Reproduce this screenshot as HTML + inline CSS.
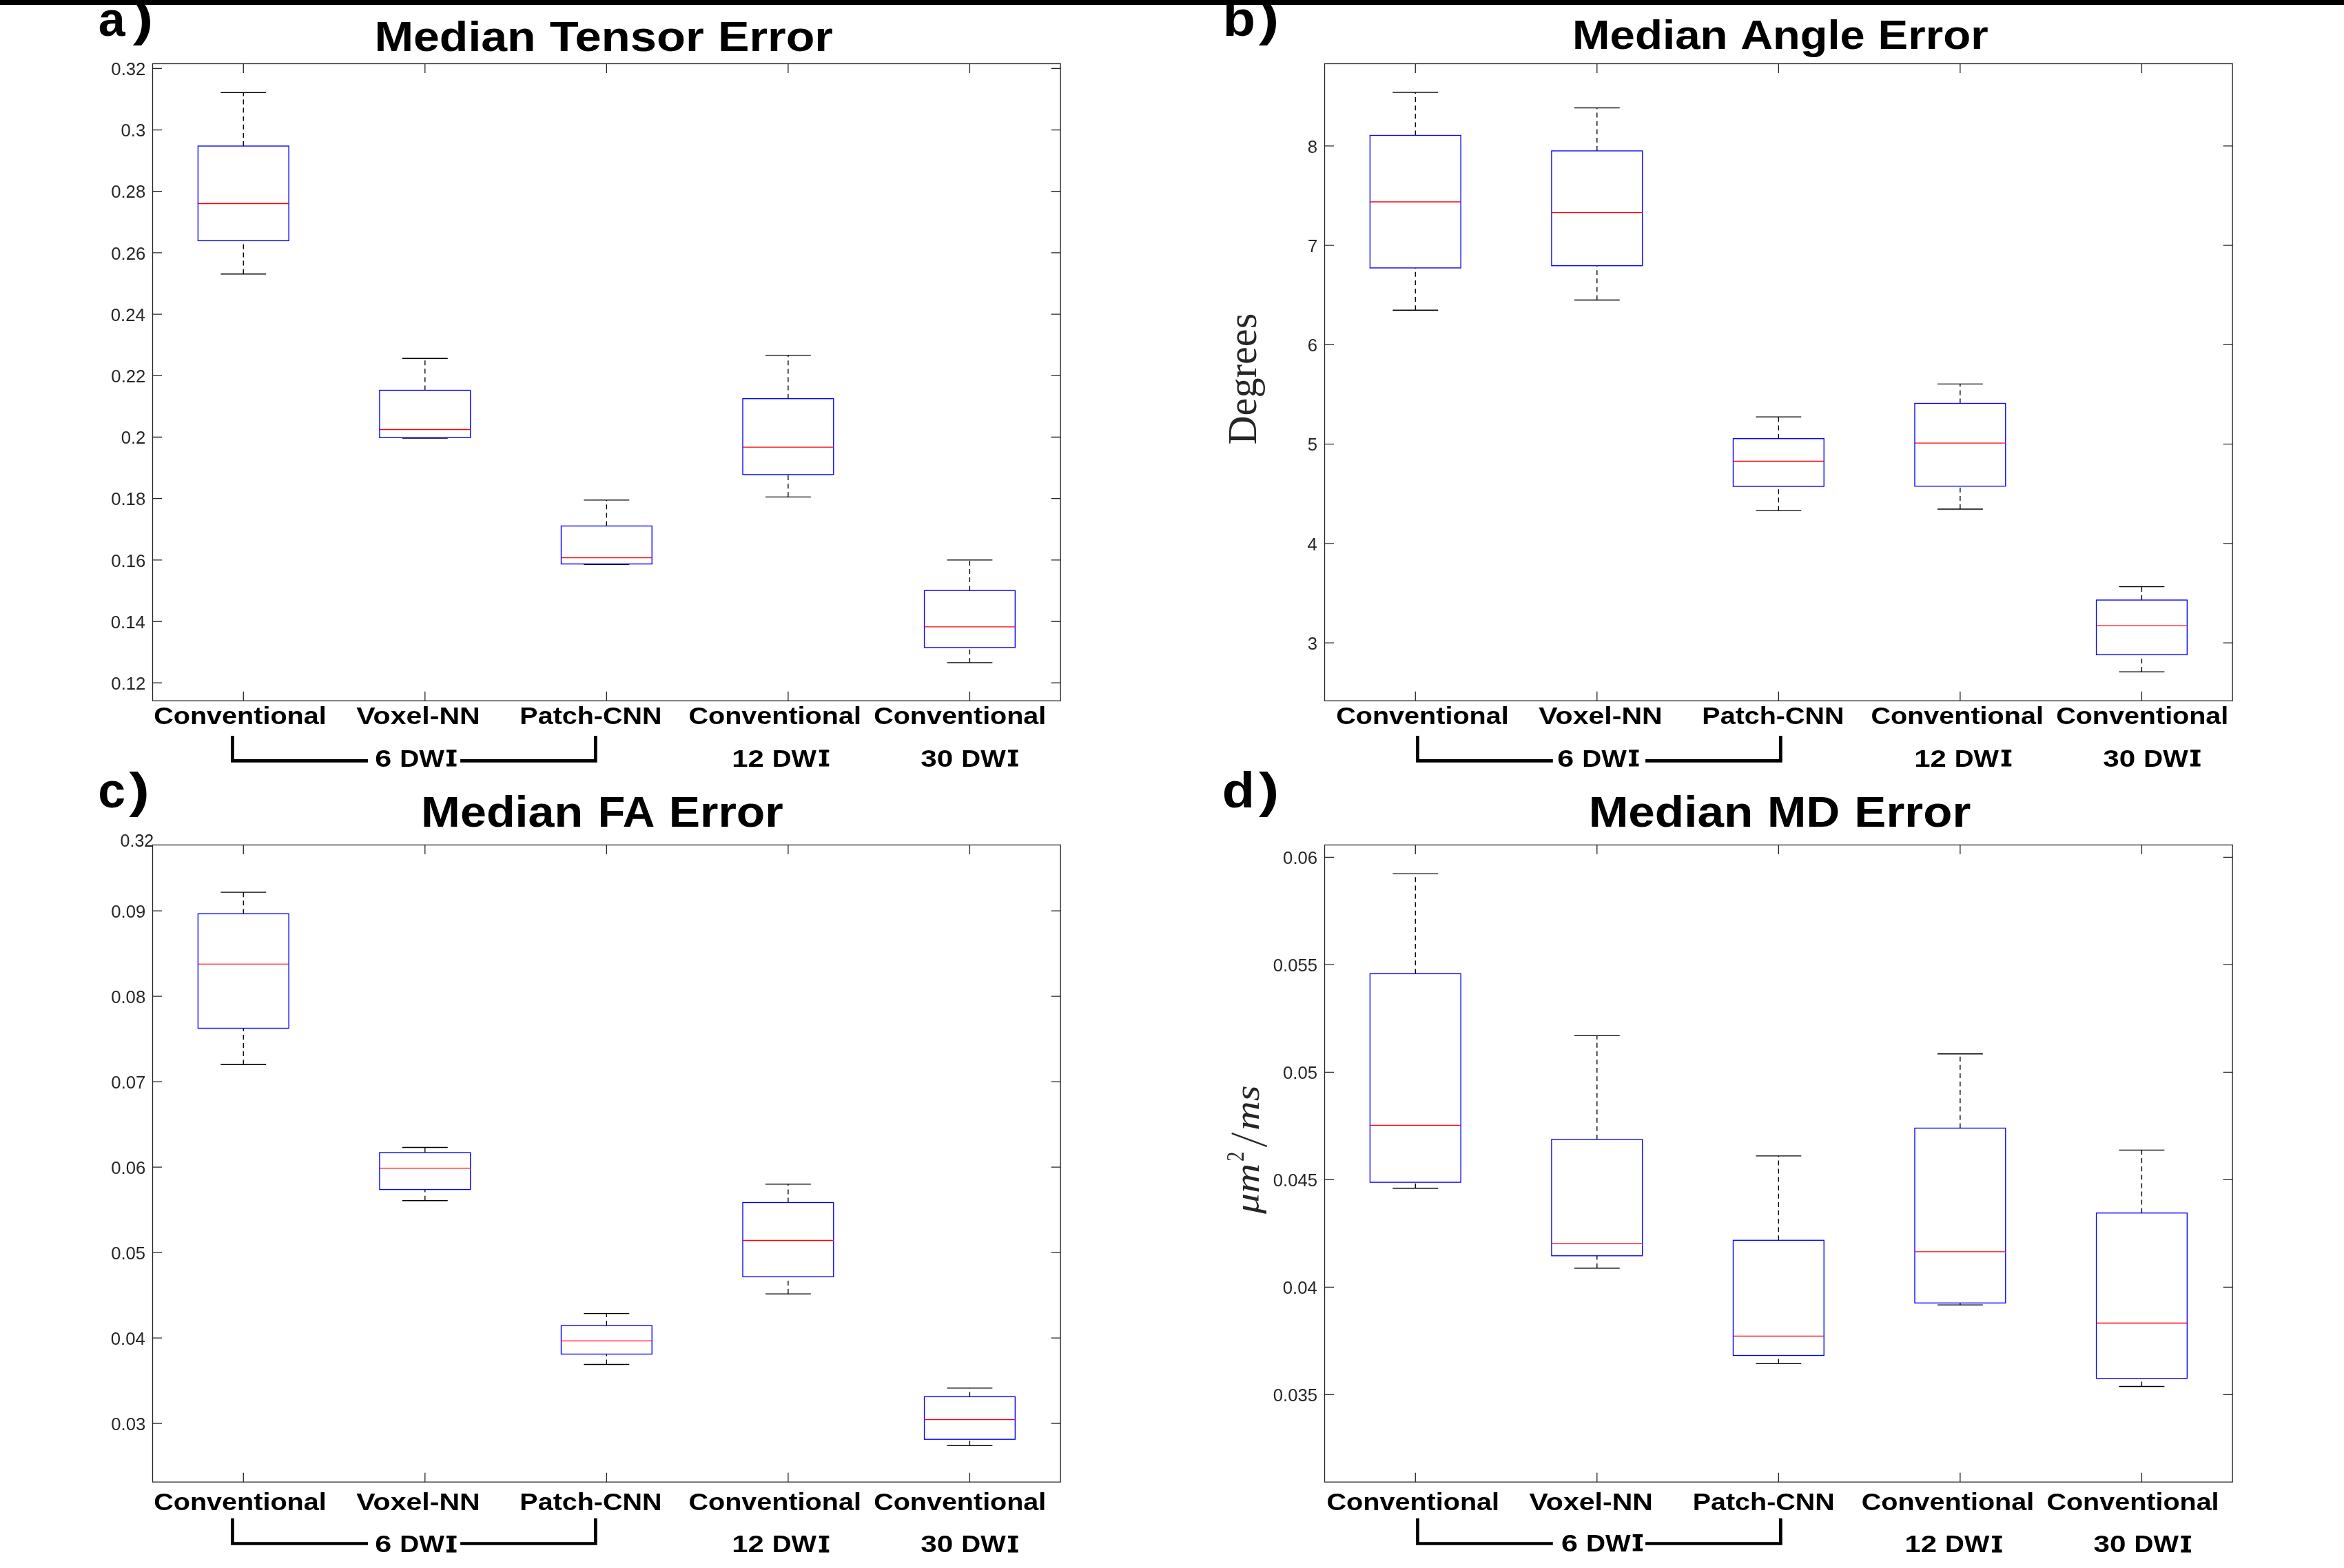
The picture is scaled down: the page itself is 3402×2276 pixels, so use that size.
<!DOCTYPE html>
<html><head><meta charset="utf-8"><title>Median Error Box Plots</title>
<style>html,body{margin:0;padding:0;background:#fff;}body{width:3402px;height:2276px;overflow:hidden;font-family:"Liberation Sans", sans-serif;}</style>
</head><body>
<svg width="3402" height="2276" viewBox="0 0 3402 2276" style="display:block;will-change:transform">
<rect x="0" y="0" width="3402" height="2276" fill="#fff"/>
<rect x="0" y="0" width="3402" height="7" fill="#000"/>
<path d="M353.27 1017.20V1003.70M353.27 92.50V106.00M616.81 1017.20V1003.70M616.81 92.50V106.00M880.35 1017.20V1003.70M880.35 92.50V106.00M1143.89 1017.20V1003.70M1143.89 92.50V106.00M1407.43 1017.20V1003.70M1407.43 92.50V106.00M221.50 99.40H235.00M1539.20 99.40H1525.70M221.50 188.58H235.00M1539.20 188.58H1525.70M221.50 277.76H235.00M1539.20 277.76H1525.70M221.50 366.94H235.00M1539.20 366.94H1525.70M221.50 456.12H235.00M1539.20 456.12H1525.70M221.50 545.30H235.00M1539.20 545.30H1525.70M221.50 634.48H235.00M1539.20 634.48H1525.70M221.50 723.66H235.00M1539.20 723.66H1525.70M221.50 812.84H235.00M1539.20 812.84H1525.70M221.50 902.02H235.00M1539.20 902.02H1525.70M221.50 991.20H235.00M1539.20 991.20H1525.70" stroke="#262626" stroke-width="1.3" fill="none"/>
<rect x="221.5" y="92.5" width="1317.70" height="924.70" stroke="#262626" stroke-width="1.3" fill="none"/>
<text x="161.37" y="109.10" font-family='"Liberation Sans", sans-serif' font-size="25.7" fill="#262626">0.32</text>
<text x="175.50" y="198.28" font-family='"Liberation Sans", sans-serif' font-size="25.7" fill="#262626">0.3</text>
<text x="161.20" y="287.46" font-family='"Liberation Sans", sans-serif' font-size="25.7" fill="#262626">0.28</text>
<text x="161.21" y="376.64" font-family='"Liberation Sans", sans-serif' font-size="25.7" fill="#262626">0.26</text>
<text x="160.83" y="465.82" font-family='"Liberation Sans", sans-serif' font-size="25.7" fill="#262626">0.24</text>
<text x="161.37" y="555.00" font-family='"Liberation Sans", sans-serif' font-size="25.7" fill="#262626">0.22</text>
<text x="175.67" y="644.18" font-family='"Liberation Sans", sans-serif' font-size="25.7" fill="#262626">0.2</text>
<text x="161.20" y="733.36" font-family='"Liberation Sans", sans-serif' font-size="25.7" fill="#262626">0.18</text>
<text x="161.21" y="822.54" font-family='"Liberation Sans", sans-serif' font-size="25.7" fill="#262626">0.16</text>
<text x="160.83" y="911.72" font-family='"Liberation Sans", sans-serif' font-size="25.7" fill="#262626">0.14</text>
<text x="161.37" y="1000.90" font-family='"Liberation Sans", sans-serif' font-size="25.7" fill="#262626">0.12</text>
<path d="M353.27 212.00V134.30M353.27 397.70V349.40" stroke="#000" stroke-width="1.35" stroke-dasharray="7 5.1" fill="none"/>
<path d="M320.33 134.30H386.21M320.33 397.70H386.21" stroke="#000" stroke-width="1.35" fill="none"/>
<rect x="287.38" y="212.00" width="131.77" height="137.40" stroke="#00f" stroke-width="1.35" fill="none"/>
<path d="M287.38 295.50H419.15" stroke="#f00" stroke-width="1.3" fill="none"/>
<path d="M616.81 566.50V520.20M616.81 636.10V635.30" stroke="#000" stroke-width="1.35" stroke-dasharray="7 5.1" fill="none"/>
<path d="M583.87 520.20H649.75M583.87 636.10H649.75" stroke="#000" stroke-width="1.35" fill="none"/>
<rect x="550.93" y="566.50" width="131.77" height="68.80" stroke="#00f" stroke-width="1.35" fill="none"/>
<path d="M550.93 623.50H682.70" stroke="#f00" stroke-width="1.3" fill="none"/>
<path d="M880.35 763.50V725.90M880.35 819.40V818.60" stroke="#000" stroke-width="1.35" stroke-dasharray="7 5.1" fill="none"/>
<path d="M847.41 725.90H913.29M847.41 819.40H913.29" stroke="#000" stroke-width="1.35" fill="none"/>
<rect x="814.47" y="763.50" width="131.77" height="55.10" stroke="#00f" stroke-width="1.35" fill="none"/>
<path d="M814.47 809.60H946.24" stroke="#f00" stroke-width="1.3" fill="none"/>
<path d="M1143.89 578.70V515.60M1143.89 721.30V688.90" stroke="#000" stroke-width="1.35" stroke-dasharray="7 5.1" fill="none"/>
<path d="M1110.95 515.60H1176.83M1110.95 721.30H1176.83" stroke="#000" stroke-width="1.35" fill="none"/>
<rect x="1078.01" y="578.70" width="131.77" height="110.20" stroke="#00f" stroke-width="1.35" fill="none"/>
<path d="M1078.01 649.10H1209.78" stroke="#f00" stroke-width="1.3" fill="none"/>
<path d="M1407.43 857.20V812.80M1407.43 961.90V939.90" stroke="#000" stroke-width="1.35" stroke-dasharray="7 5.1" fill="none"/>
<path d="M1374.49 812.80H1440.37M1374.49 961.90H1440.37" stroke="#000" stroke-width="1.35" fill="none"/>
<rect x="1341.55" y="857.20" width="131.77" height="82.70" stroke="#00f" stroke-width="1.35" fill="none"/>
<path d="M1341.55 909.90H1473.32" stroke="#f00" stroke-width="1.3" fill="none"/>
<path d="M2054.27 1017.20V1003.70M2054.27 92.50V106.00M2317.81 1017.20V1003.70M2317.81 92.50V106.00M2581.35 1017.20V1003.70M2581.35 92.50V106.00M2844.89 1017.20V1003.70M2844.89 92.50V106.00M3108.43 1017.20V1003.70M3108.43 92.50V106.00M1922.50 211.90H1936.00M3240.20 211.90H3226.70M1922.50 356.16H1936.00M3240.20 356.16H3226.70M1922.50 500.42H1936.00M3240.20 500.42H3226.70M1922.50 644.68H1936.00M3240.20 644.68H3226.70M1922.50 788.94H1936.00M3240.20 788.94H3226.70M1922.50 933.20H1936.00M3240.20 933.20H3226.70" stroke="#262626" stroke-width="1.3" fill="none"/>
<rect x="1922.5" y="92.5" width="1317.70" height="924.70" stroke="#262626" stroke-width="1.3" fill="none"/>
<text x="1897.82" y="221.60" font-family='"Liberation Sans", sans-serif' font-size="25.7" fill="#262626">8</text>
<text x="1898.00" y="365.86" font-family='"Liberation Sans", sans-serif' font-size="25.7" fill="#262626">7</text>
<text x="1897.84" y="510.12" font-family='"Liberation Sans", sans-serif' font-size="25.7" fill="#262626">6</text>
<text x="1897.79" y="654.38" font-family='"Liberation Sans", sans-serif' font-size="25.7" fill="#262626">5</text>
<text x="1897.46" y="798.64" font-family='"Liberation Sans", sans-serif' font-size="25.7" fill="#262626">4</text>
<text x="1897.84" y="942.90" font-family='"Liberation Sans", sans-serif' font-size="25.7" fill="#262626">3</text>
<path d="M2054.27 196.50V134.10M2054.27 450.20V388.90" stroke="#000" stroke-width="1.35" stroke-dasharray="7 5.1" fill="none"/>
<path d="M2021.33 134.10H2087.21M2021.33 450.20H2087.21" stroke="#000" stroke-width="1.35" fill="none"/>
<rect x="1988.38" y="196.50" width="131.77" height="192.40" stroke="#00f" stroke-width="1.35" fill="none"/>
<path d="M1988.38 293.00H2120.15" stroke="#f00" stroke-width="1.3" fill="none"/>
<path d="M2317.81 219.00V156.60M2317.81 435.50V385.70" stroke="#000" stroke-width="1.35" stroke-dasharray="7 5.1" fill="none"/>
<path d="M2284.87 156.60H2350.75M2284.87 435.50H2350.75" stroke="#000" stroke-width="1.35" fill="none"/>
<rect x="2251.93" y="219.00" width="131.77" height="166.70" stroke="#00f" stroke-width="1.35" fill="none"/>
<path d="M2251.93 308.60H2383.69" stroke="#f00" stroke-width="1.3" fill="none"/>
<path d="M2581.35 636.70V605.10M2581.35 741.40V706.00" stroke="#000" stroke-width="1.35" stroke-dasharray="7 5.1" fill="none"/>
<path d="M2548.41 605.10H2614.29M2548.41 741.40H2614.29" stroke="#000" stroke-width="1.35" fill="none"/>
<rect x="2515.47" y="636.70" width="131.77" height="69.30" stroke="#00f" stroke-width="1.35" fill="none"/>
<path d="M2515.47 669.50H2647.23" stroke="#f00" stroke-width="1.3" fill="none"/>
<path d="M2844.89 585.50V557.40M2844.89 739.00V705.70" stroke="#000" stroke-width="1.35" stroke-dasharray="7 5.1" fill="none"/>
<path d="M2811.95 557.40H2877.83M2811.95 739.00H2877.83" stroke="#000" stroke-width="1.35" fill="none"/>
<rect x="2779.01" y="585.50" width="131.77" height="120.20" stroke="#00f" stroke-width="1.35" fill="none"/>
<path d="M2779.01 643.10H2910.77" stroke="#f00" stroke-width="1.3" fill="none"/>
<path d="M3108.43 871.00V851.60M3108.43 975.10V950.40" stroke="#000" stroke-width="1.35" stroke-dasharray="7 5.1" fill="none"/>
<path d="M3075.49 851.60H3141.37M3075.49 975.10H3141.37" stroke="#000" stroke-width="1.35" fill="none"/>
<rect x="3042.55" y="871.00" width="131.77" height="79.40" stroke="#00f" stroke-width="1.35" fill="none"/>
<path d="M3042.55 908.40H3174.31" stroke="#f00" stroke-width="1.3" fill="none"/>
<path d="M353.27 2151.20V2137.70M353.27 1226.50V1240.00M616.81 2151.20V2137.70M616.81 1226.50V1240.00M880.35 2151.20V2137.70M880.35 1226.50V1240.00M1143.89 2151.20V2137.70M1143.89 1226.50V1240.00M1407.43 2151.20V2137.70M1407.43 1226.50V1240.00M221.50 1322.10H235.00M1539.20 1322.10H1525.70M221.50 1446.10H235.00M1539.20 1446.10H1525.70M221.50 1570.10H235.00M1539.20 1570.10H1525.70M221.50 1694.10H235.00M1539.20 1694.10H1525.70M221.50 1818.10H235.00M1539.20 1818.10H1525.70M221.50 1942.10H235.00M1539.20 1942.10H1525.70M221.50 2066.10H235.00M1539.20 2066.10H1525.70" stroke="#262626" stroke-width="1.3" fill="none"/>
<rect x="221.5" y="1226.5" width="1317.70" height="924.70" stroke="#262626" stroke-width="1.3" fill="none"/>
<text x="161.30" y="1331.80" font-family='"Liberation Sans", sans-serif' font-size="25.7" fill="#262626">0.09</text>
<text x="161.20" y="1455.80" font-family='"Liberation Sans", sans-serif' font-size="25.7" fill="#262626">0.08</text>
<text x="161.37" y="1579.80" font-family='"Liberation Sans", sans-serif' font-size="25.7" fill="#262626">0.07</text>
<text x="161.21" y="1703.80" font-family='"Liberation Sans", sans-serif' font-size="25.7" fill="#262626">0.06</text>
<text x="161.16" y="1827.80" font-family='"Liberation Sans", sans-serif' font-size="25.7" fill="#262626">0.05</text>
<text x="160.83" y="1951.80" font-family='"Liberation Sans", sans-serif' font-size="25.7" fill="#262626">0.04</text>
<text x="161.21" y="2075.80" font-family='"Liberation Sans", sans-serif' font-size="25.7" fill="#262626">0.03</text>
<path d="M353.27 1326.40V1295.10M353.27 1545.20V1492.50" stroke="#000" stroke-width="1.35" stroke-dasharray="7 5.1" fill="none"/>
<path d="M320.33 1295.10H386.21M320.33 1545.20H386.21" stroke="#000" stroke-width="1.35" fill="none"/>
<rect x="287.38" y="1326.40" width="131.77" height="166.10" stroke="#00f" stroke-width="1.35" fill="none"/>
<path d="M287.38 1399.40H419.15" stroke="#f00" stroke-width="1.3" fill="none"/>
<path d="M616.81 1673.00V1665.50M616.81 1742.70V1726.60" stroke="#000" stroke-width="1.35" stroke-dasharray="7 5.1" fill="none"/>
<path d="M583.87 1665.50H649.75M583.87 1742.70H649.75" stroke="#000" stroke-width="1.35" fill="none"/>
<rect x="550.93" y="1673.00" width="131.77" height="53.60" stroke="#00f" stroke-width="1.35" fill="none"/>
<path d="M550.93 1695.60H682.70" stroke="#f00" stroke-width="1.3" fill="none"/>
<path d="M880.35 1924.20V1906.60M880.35 1980.50V1965.50" stroke="#000" stroke-width="1.35" stroke-dasharray="7 5.1" fill="none"/>
<path d="M847.41 1906.60H913.29M847.41 1980.50H913.29" stroke="#000" stroke-width="1.35" fill="none"/>
<rect x="814.47" y="1924.20" width="131.77" height="41.30" stroke="#00f" stroke-width="1.35" fill="none"/>
<path d="M814.47 1946.30H946.24" stroke="#f00" stroke-width="1.3" fill="none"/>
<path d="M1143.89 1745.50V1718.80M1143.89 1878.10V1853.20" stroke="#000" stroke-width="1.35" stroke-dasharray="7 5.1" fill="none"/>
<path d="M1110.95 1718.80H1176.83M1110.95 1878.10H1176.83" stroke="#000" stroke-width="1.35" fill="none"/>
<rect x="1078.01" y="1745.50" width="131.77" height="107.70" stroke="#00f" stroke-width="1.35" fill="none"/>
<path d="M1078.01 1800.50H1209.78" stroke="#f00" stroke-width="1.3" fill="none"/>
<path d="M1407.43 2027.40V2014.80M1407.43 2098.30V2089.20" stroke="#000" stroke-width="1.35" stroke-dasharray="7 5.1" fill="none"/>
<path d="M1374.49 2014.80H1440.37M1374.49 2098.30H1440.37" stroke="#000" stroke-width="1.35" fill="none"/>
<rect x="1341.55" y="2027.40" width="131.77" height="61.80" stroke="#00f" stroke-width="1.35" fill="none"/>
<path d="M1341.55 2060.60H1473.32" stroke="#f00" stroke-width="1.3" fill="none"/>
<path d="M2054.27 2151.20V2137.70M2054.27 1226.50V1240.00M2317.81 2151.20V2137.70M2317.81 1226.50V1240.00M2581.35 2151.20V2137.70M2581.35 1226.50V1240.00M2844.89 2151.20V2137.70M2844.89 1226.50V1240.00M3108.43 2151.20V2137.70M3108.43 1226.50V1240.00M1922.50 1244.40H1936.00M3240.20 1244.40H3226.70M1922.50 1400.38H1936.00M3240.20 1400.38H3226.70M1922.50 1556.36H1936.00M3240.20 1556.36H3226.70M1922.50 1712.34H1936.00M3240.20 1712.34H3226.70M1922.50 1868.32H1936.00M3240.20 1868.32H3226.70M1922.50 2024.30H1936.00M3240.20 2024.30H3226.70" stroke="#262626" stroke-width="1.3" fill="none"/>
<rect x="1922.5" y="1226.5" width="1317.70" height="924.70" stroke="#262626" stroke-width="1.3" fill="none"/>
<text x="1862.11" y="1254.10" font-family='"Liberation Sans", sans-serif' font-size="25.7" fill="#262626">0.06</text>
<text x="1847.77" y="1410.08" font-family='"Liberation Sans", sans-serif' font-size="25.7" fill="#262626">0.055</text>
<text x="1862.06" y="1566.06" font-family='"Liberation Sans", sans-serif' font-size="25.7" fill="#262626">0.05</text>
<text x="1847.77" y="1722.04" font-family='"Liberation Sans", sans-serif' font-size="25.7" fill="#262626">0.045</text>
<text x="1861.73" y="1878.02" font-family='"Liberation Sans", sans-serif' font-size="25.7" fill="#262626">0.04</text>
<text x="1847.77" y="2034.00" font-family='"Liberation Sans", sans-serif' font-size="25.7" fill="#262626">0.035</text>
<path d="M2054.27 1413.40V1268.30M2054.27 1724.70V1716.10" stroke="#000" stroke-width="1.35" stroke-dasharray="7 5.1" fill="none"/>
<path d="M2021.33 1268.30H2087.21M2021.33 1724.70H2087.21" stroke="#000" stroke-width="1.35" fill="none"/>
<rect x="1988.38" y="1413.40" width="131.77" height="302.70" stroke="#00f" stroke-width="1.35" fill="none"/>
<path d="M1988.38 1633.30H2120.15" stroke="#f00" stroke-width="1.3" fill="none"/>
<path d="M2317.81 1653.90V1503.30M2317.81 1840.70V1822.80" stroke="#000" stroke-width="1.35" stroke-dasharray="7 5.1" fill="none"/>
<path d="M2284.87 1503.30H2350.75M2284.87 1840.70H2350.75" stroke="#000" stroke-width="1.35" fill="none"/>
<rect x="2251.93" y="1653.90" width="131.77" height="168.90" stroke="#00f" stroke-width="1.35" fill="none"/>
<path d="M2251.93 1804.90H2383.69" stroke="#f00" stroke-width="1.3" fill="none"/>
<path d="M2581.35 1800.30V1677.80M2581.35 1979.40V1967.50" stroke="#000" stroke-width="1.35" stroke-dasharray="7 5.1" fill="none"/>
<path d="M2548.41 1677.80H2614.29M2548.41 1979.40H2614.29" stroke="#000" stroke-width="1.35" fill="none"/>
<rect x="2515.47" y="1800.30" width="131.77" height="167.20" stroke="#00f" stroke-width="1.35" fill="none"/>
<path d="M2515.47 1939.40H2647.23" stroke="#f00" stroke-width="1.3" fill="none"/>
<path d="M2844.89 1637.50V1529.70M2844.89 1894.10V1891.30" stroke="#000" stroke-width="1.35" stroke-dasharray="7 5.1" fill="none"/>
<path d="M2811.95 1529.70H2877.83M2811.95 1894.10H2877.83" stroke="#000" stroke-width="1.35" fill="none"/>
<rect x="2779.01" y="1637.50" width="131.77" height="253.80" stroke="#00f" stroke-width="1.35" fill="none"/>
<path d="M2779.01 1816.90H2910.77" stroke="#f00" stroke-width="1.3" fill="none"/>
<path d="M3108.43 1760.70V1669.40M3108.43 2012.50V2000.80" stroke="#000" stroke-width="1.35" stroke-dasharray="7 5.1" fill="none"/>
<path d="M3075.49 1669.40H3141.37M3075.49 2012.50H3141.37" stroke="#000" stroke-width="1.35" fill="none"/>
<rect x="3042.55" y="1760.70" width="131.77" height="240.10" stroke="#00f" stroke-width="1.35" fill="none"/>
<path d="M3042.55 1920.50H3174.31" stroke="#f00" stroke-width="1.3" fill="none"/>
<text x="174.62" y="1229.40" font-family='"Liberation Sans", sans-serif' font-size="25.70" fill="#262626" textLength="48.63" lengthAdjust="spacingAndGlyphs">0.32</text>
<text x="142.75" y="51.70" font-family='"Liberation Sans", sans-serif' font-size="71.19" font-weight="bold" fill="#000" textLength="38.91" lengthAdjust="spacingAndGlyphs">a</text>
<text x="192.81" y="50.51" font-family='"Liberation Sans", sans-serif' font-size="69.84" font-weight="bold" fill="#000" textLength="29.62" lengthAdjust="spacingAndGlyphs">)</text>
<text x="1774.70" y="51.60" font-family='"Liberation Sans", sans-serif' font-size="71.40" font-weight="bold" fill="#000" textLength="47.28" lengthAdjust="spacingAndGlyphs">b</text>
<text x="1826.81" y="50.51" font-family='"Liberation Sans", sans-serif' font-size="69.84" font-weight="bold" fill="#000" textLength="29.62" lengthAdjust="spacingAndGlyphs">)</text>
<text x="142.20" y="1171.90" font-family='"Liberation Sans", sans-serif' font-size="71.73" font-weight="bold" fill="#000" textLength="39.90" lengthAdjust="spacingAndGlyphs">c</text>
<text x="187.21" y="1170.61" font-family='"Liberation Sans", sans-serif' font-size="69.84" font-weight="bold" fill="#000" textLength="29.73" lengthAdjust="spacingAndGlyphs">)</text>
<text x="1773.73" y="1171.90" font-family='"Liberation Sans", sans-serif' font-size="71.63" font-weight="bold" fill="#000" textLength="47.28" lengthAdjust="spacingAndGlyphs">d</text>
<text x="1827.01" y="1170.61" font-family='"Liberation Sans", sans-serif' font-size="69.84" font-weight="bold" fill="#000" textLength="29.38" lengthAdjust="spacingAndGlyphs">)</text>
<text x="543.45" y="73.80" font-family='"Liberation Sans", sans-serif' font-size="61.19" font-weight="bold" fill="#000" textLength="234.16" lengthAdjust="spacingAndGlyphs">Median</text>
<text x="797.75" y="73.80" font-family='"Liberation Sans", sans-serif' font-size="61.19" font-weight="bold" fill="#000" textLength="223.97" lengthAdjust="spacingAndGlyphs">Tensor</text>
<text x="1041.93" y="73.80" font-family='"Liberation Sans", sans-serif' font-size="61.19" font-weight="bold" fill="#000" textLength="167.00" lengthAdjust="spacingAndGlyphs">Error</text>
<text x="2282.12" y="70.90" font-family='"Liberation Sans", sans-serif' font-size="59.16" font-weight="bold" fill="#000" textLength="225.44" lengthAdjust="spacingAndGlyphs">Median</text>
<text x="2526.18" y="70.90" font-family='"Liberation Sans", sans-serif' font-size="59.16" font-weight="bold" fill="#000" textLength="180.44" lengthAdjust="spacingAndGlyphs">Angle</text>
<text x="2725.62" y="70.90" font-family='"Liberation Sans", sans-serif' font-size="59.16" font-weight="bold" fill="#000" textLength="160.17" lengthAdjust="spacingAndGlyphs">Error</text>
<text x="611.14" y="1199.90" font-family='"Liberation Sans", sans-serif' font-size="62.50" font-weight="bold" fill="#000" textLength="234.99" lengthAdjust="spacingAndGlyphs">Median</text>
<text x="867.76" y="1199.90" font-family='"Liberation Sans", sans-serif' font-size="62.50" font-weight="bold" fill="#000" textLength="82.58" lengthAdjust="spacingAndGlyphs">FA</text>
<text x="970.66" y="1199.90" font-family='"Liberation Sans", sans-serif' font-size="62.50" font-weight="bold" fill="#000" textLength="166.07" lengthAdjust="spacingAndGlyphs">Error</text>
<text x="2305.67" y="1200.10" font-family='"Liberation Sans", sans-serif' font-size="62.94" font-weight="bold" fill="#000" textLength="238.53" lengthAdjust="spacingAndGlyphs">Median</text>
<text x="2565.08" y="1200.10" font-family='"Liberation Sans", sans-serif' font-size="62.94" font-weight="bold" fill="#000" textLength="105.16" lengthAdjust="spacingAndGlyphs">MD</text>
<text x="2691.38" y="1200.10" font-family='"Liberation Sans", sans-serif' font-size="62.94" font-weight="bold" fill="#000" textLength="168.97" lengthAdjust="spacingAndGlyphs">Error</text>
<text x="223.18" y="1051.00" font-family='"Liberation Sans", sans-serif' font-size="35.61" font-weight="bold" fill="#000" textLength="250.62" lengthAdjust="spacingAndGlyphs">Conventional</text>
<text x="517.22" y="1051.00" font-family='"Liberation Sans", sans-serif' font-size="35.61" font-weight="bold" fill="#000" textLength="179.50" lengthAdjust="spacingAndGlyphs">Voxel-NN</text>
<text x="754.36" y="1051.00" font-family='"Liberation Sans", sans-serif' font-size="35.61" font-weight="bold" fill="#000" textLength="206.20" lengthAdjust="spacingAndGlyphs">Patch-CNN</text>
<text x="999.48" y="1051.00" font-family='"Liberation Sans", sans-serif' font-size="35.61" font-weight="bold" fill="#000" textLength="250.42" lengthAdjust="spacingAndGlyphs">Conventional</text>
<text x="1268.18" y="1051.00" font-family='"Liberation Sans", sans-serif' font-size="35.61" font-weight="bold" fill="#000" textLength="250.12" lengthAdjust="spacingAndGlyphs">Conventional</text>
<text x="544.32" y="1112.60" font-family='"Liberation Sans", sans-serif' font-size="35.61" font-weight="bold" fill="#000" textLength="24.05" lengthAdjust="spacingAndGlyphs">6</text>
<text x="580.20" y="1112.60" font-family='"Liberation Sans", sans-serif' font-size="35.61" font-weight="bold" fill="#000" textLength="64.74" lengthAdjust="spacingAndGlyphs">DW</text>
<path d="M648.00 1088.20H662.50V1092.30H658.50V1108.50H662.50V1112.60H648.00V1108.50H652.00V1092.30H648.00Z" fill="#000"/>
<text x="1062.26" y="1112.60" font-family='"Liberation Sans", sans-serif' font-size="35.61" font-weight="bold" fill="#000" textLength="46.62" lengthAdjust="spacingAndGlyphs">12</text>
<text x="1120.72" y="1112.60" font-family='"Liberation Sans", sans-serif' font-size="35.61" font-weight="bold" fill="#000" textLength="64.32" lengthAdjust="spacingAndGlyphs">DW</text>
<path d="M1188.80 1088.20H1203.30V1092.30H1199.30V1108.50H1203.30V1112.60H1188.80V1108.50H1192.80V1092.30H1188.80Z" fill="#000"/>
<text x="1336.23" y="1112.60" font-family='"Liberation Sans", sans-serif' font-size="35.61" font-weight="bold" fill="#000" textLength="47.00" lengthAdjust="spacingAndGlyphs">30</text>
<text x="1395.31" y="1112.60" font-family='"Liberation Sans", sans-serif' font-size="35.61" font-weight="bold" fill="#000" textLength="64.42" lengthAdjust="spacingAndGlyphs">DW</text>
<path d="M1463.10 1088.20H1477.60V1092.30H1473.60V1108.50H1477.60V1112.60H1463.10V1108.50H1467.10V1092.30H1463.10Z" fill="#000"/>
<text x="1939.18" y="1051.00" font-family='"Liberation Sans", sans-serif' font-size="35.61" font-weight="bold" fill="#000" textLength="250.62" lengthAdjust="spacingAndGlyphs">Conventional</text>
<text x="2233.22" y="1051.00" font-family='"Liberation Sans", sans-serif' font-size="35.61" font-weight="bold" fill="#000" textLength="179.50" lengthAdjust="spacingAndGlyphs">Voxel-NN</text>
<text x="2470.36" y="1051.00" font-family='"Liberation Sans", sans-serif' font-size="35.61" font-weight="bold" fill="#000" textLength="206.20" lengthAdjust="spacingAndGlyphs">Patch-CNN</text>
<text x="2715.48" y="1051.00" font-family='"Liberation Sans", sans-serif' font-size="35.61" font-weight="bold" fill="#000" textLength="250.42" lengthAdjust="spacingAndGlyphs">Conventional</text>
<text x="2984.18" y="1051.00" font-family='"Liberation Sans", sans-serif' font-size="35.61" font-weight="bold" fill="#000" textLength="250.12" lengthAdjust="spacingAndGlyphs">Conventional</text>
<text x="2260.32" y="1112.60" font-family='"Liberation Sans", sans-serif' font-size="35.61" font-weight="bold" fill="#000" textLength="24.05" lengthAdjust="spacingAndGlyphs">6</text>
<text x="2296.20" y="1112.60" font-family='"Liberation Sans", sans-serif' font-size="35.61" font-weight="bold" fill="#000" textLength="64.74" lengthAdjust="spacingAndGlyphs">DW</text>
<path d="M2364.00 1088.20H2378.50V1092.30H2374.50V1108.50H2378.50V1112.60H2364.00V1108.50H2368.00V1092.30H2364.00Z" fill="#000"/>
<text x="2778.26" y="1112.60" font-family='"Liberation Sans", sans-serif' font-size="35.61" font-weight="bold" fill="#000" textLength="46.62" lengthAdjust="spacingAndGlyphs">12</text>
<text x="2836.72" y="1112.60" font-family='"Liberation Sans", sans-serif' font-size="35.61" font-weight="bold" fill="#000" textLength="64.32" lengthAdjust="spacingAndGlyphs">DW</text>
<path d="M2904.80 1088.20H2919.30V1092.30H2915.30V1108.50H2919.30V1112.60H2904.80V1108.50H2908.80V1092.30H2904.80Z" fill="#000"/>
<text x="3052.23" y="1112.60" font-family='"Liberation Sans", sans-serif' font-size="35.61" font-weight="bold" fill="#000" textLength="47.00" lengthAdjust="spacingAndGlyphs">30</text>
<text x="3111.31" y="1112.60" font-family='"Liberation Sans", sans-serif' font-size="35.61" font-weight="bold" fill="#000" textLength="64.42" lengthAdjust="spacingAndGlyphs">DW</text>
<path d="M3179.10 1088.20H3193.60V1092.30H3189.60V1108.50H3193.60V1112.60H3179.10V1108.50H3183.10V1092.30H3179.10Z" fill="#000"/>
<text x="223.18" y="2191.80" font-family='"Liberation Sans", sans-serif' font-size="35.61" font-weight="bold" fill="#000" textLength="250.62" lengthAdjust="spacingAndGlyphs">Conventional</text>
<text x="517.22" y="2191.80" font-family='"Liberation Sans", sans-serif' font-size="35.61" font-weight="bold" fill="#000" textLength="179.50" lengthAdjust="spacingAndGlyphs">Voxel-NN</text>
<text x="754.36" y="2191.80" font-family='"Liberation Sans", sans-serif' font-size="35.61" font-weight="bold" fill="#000" textLength="206.20" lengthAdjust="spacingAndGlyphs">Patch-CNN</text>
<text x="999.48" y="2191.80" font-family='"Liberation Sans", sans-serif' font-size="35.61" font-weight="bold" fill="#000" textLength="250.42" lengthAdjust="spacingAndGlyphs">Conventional</text>
<text x="1268.18" y="2191.80" font-family='"Liberation Sans", sans-serif' font-size="35.61" font-weight="bold" fill="#000" textLength="250.12" lengthAdjust="spacingAndGlyphs">Conventional</text>
<text x="544.32" y="2253.40" font-family='"Liberation Sans", sans-serif' font-size="35.61" font-weight="bold" fill="#000" textLength="24.05" lengthAdjust="spacingAndGlyphs">6</text>
<text x="580.20" y="2253.40" font-family='"Liberation Sans", sans-serif' font-size="35.61" font-weight="bold" fill="#000" textLength="64.74" lengthAdjust="spacingAndGlyphs">DW</text>
<path d="M648.00 2229.00H662.50V2233.10H658.50V2249.30H662.50V2253.40H648.00V2249.30H652.00V2233.10H648.00Z" fill="#000"/>
<text x="1062.26" y="2253.40" font-family='"Liberation Sans", sans-serif' font-size="35.61" font-weight="bold" fill="#000" textLength="46.62" lengthAdjust="spacingAndGlyphs">12</text>
<text x="1120.72" y="2253.40" font-family='"Liberation Sans", sans-serif' font-size="35.61" font-weight="bold" fill="#000" textLength="64.32" lengthAdjust="spacingAndGlyphs">DW</text>
<path d="M1188.80 2229.00H1203.30V2233.10H1199.30V2249.30H1203.30V2253.40H1188.80V2249.30H1192.80V2233.10H1188.80Z" fill="#000"/>
<text x="1336.23" y="2253.40" font-family='"Liberation Sans", sans-serif' font-size="35.61" font-weight="bold" fill="#000" textLength="47.00" lengthAdjust="spacingAndGlyphs">30</text>
<text x="1395.31" y="2253.40" font-family='"Liberation Sans", sans-serif' font-size="35.61" font-weight="bold" fill="#000" textLength="64.42" lengthAdjust="spacingAndGlyphs">DW</text>
<path d="M1463.10 2229.00H1477.60V2233.10H1473.60V2249.30H1477.60V2253.40H1463.10V2249.30H1467.10V2233.10H1463.10Z" fill="#000"/>
<text x="1925.48" y="2191.80" font-family='"Liberation Sans", sans-serif' font-size="35.61" font-weight="bold" fill="#000" textLength="250.62" lengthAdjust="spacingAndGlyphs">Conventional</text>
<text x="2219.52" y="2191.80" font-family='"Liberation Sans", sans-serif' font-size="35.61" font-weight="bold" fill="#000" textLength="179.50" lengthAdjust="spacingAndGlyphs">Voxel-NN</text>
<text x="2456.66" y="2191.80" font-family='"Liberation Sans", sans-serif' font-size="35.61" font-weight="bold" fill="#000" textLength="206.20" lengthAdjust="spacingAndGlyphs">Patch-CNN</text>
<text x="2701.78" y="2191.80" font-family='"Liberation Sans", sans-serif' font-size="35.61" font-weight="bold" fill="#000" textLength="250.42" lengthAdjust="spacingAndGlyphs">Conventional</text>
<text x="2970.48" y="2191.80" font-family='"Liberation Sans", sans-serif' font-size="35.61" font-weight="bold" fill="#000" textLength="250.12" lengthAdjust="spacingAndGlyphs">Conventional</text>
<text x="2266.02" y="2251.50" font-family='"Liberation Sans", sans-serif' font-size="35.61" font-weight="bold" fill="#000" textLength="24.05" lengthAdjust="spacingAndGlyphs">6</text>
<text x="2301.90" y="2251.50" font-family='"Liberation Sans", sans-serif' font-size="35.61" font-weight="bold" fill="#000" textLength="64.74" lengthAdjust="spacingAndGlyphs">DW</text>
<path d="M2369.70 2227.10H2384.20V2231.20H2380.20V2247.40H2384.20V2251.50H2369.70V2247.40H2373.70V2231.20H2369.70Z" fill="#000"/>
<text x="2764.56" y="2253.40" font-family='"Liberation Sans", sans-serif' font-size="35.61" font-weight="bold" fill="#000" textLength="46.62" lengthAdjust="spacingAndGlyphs">12</text>
<text x="2823.02" y="2253.40" font-family='"Liberation Sans", sans-serif' font-size="35.61" font-weight="bold" fill="#000" textLength="64.32" lengthAdjust="spacingAndGlyphs">DW</text>
<path d="M2891.10 2229.00H2905.60V2233.10H2901.60V2249.30H2905.60V2253.40H2891.10V2249.30H2895.10V2233.10H2891.10Z" fill="#000"/>
<text x="3038.53" y="2253.40" font-family='"Liberation Sans", sans-serif' font-size="35.61" font-weight="bold" fill="#000" textLength="47.00" lengthAdjust="spacingAndGlyphs">30</text>
<text x="3097.61" y="2253.40" font-family='"Liberation Sans", sans-serif' font-size="35.61" font-weight="bold" fill="#000" textLength="64.42" lengthAdjust="spacingAndGlyphs">DW</text>
<path d="M3165.40 2229.00H3179.90V2233.10H3175.90V2249.30H3179.90V2253.40H3165.40V2249.30H3169.40V2233.10H3165.40Z" fill="#000"/>
<path d="M337.5 1068.0V1104.4H534.0M668.1 1104.4H864.4V1068.0" stroke="#000" stroke-width="4.7" fill="none" stroke-linecap="butt" stroke-linejoin="miter"/>
<path d="M2057.5 1068.0V1104.4H2253.8M2388.1 1104.4H2584.4V1068.0" stroke="#000" stroke-width="4.7" fill="none" stroke-linecap="butt" stroke-linejoin="miter"/>
<path d="M337.5 2204.0V2240.5H534.0M668.1 2240.5H864.4V2204.0" stroke="#000" stroke-width="4.7" fill="none" stroke-linecap="butt" stroke-linejoin="miter"/>
<path d="M2057.5 2204.0V2240.5H2253.8M2388.1 2240.5H2584.4V2204.0" stroke="#000" stroke-width="4.7" fill="none" stroke-linecap="butt" stroke-linejoin="miter"/>
<text transform="rotate(-90)" x="-645.48" y="1822.6" font-family='"Liberation Serif", serif' font-size="59.54" fill="#262626" textLength="190.78" lengthAdjust="spacingAndGlyphs">Degrees</text>
<g transform="rotate(-90)" fill="#262626" font-family='"Liberation Serif", serif' font-style="italic"><text x="-1762.1" y="1826.9" font-size="50.11" textLength="73.10" lengthAdjust="spacingAndGlyphs">μm</text><text x="-1686" y="1805" font-size="35.08" font-style="normal" textLength="14.4" lengthAdjust="spacingAndGlyphs">2</text><text x="-1640.7" y="1826.9" font-size="50.11" textLength="65.30" lengthAdjust="spacingAndGlyphs">ms</text></g>
<path d="M1788.6 1645.3L1838.0 1663.6" stroke="#262626" stroke-width="2.3" stroke-linecap="round"/>
</svg>
</body></html>
